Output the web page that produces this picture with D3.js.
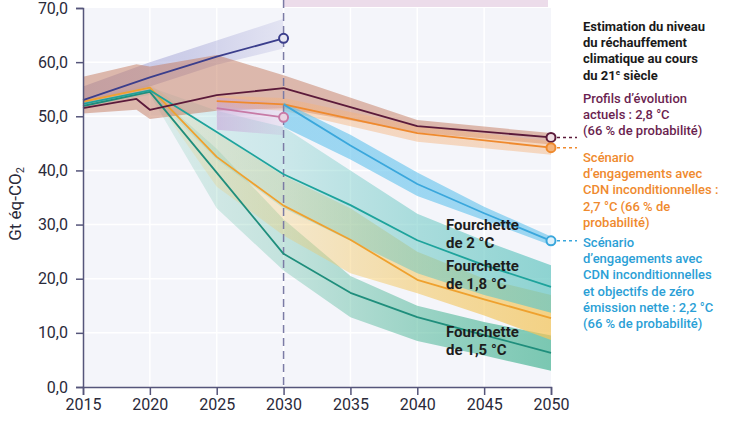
<!DOCTYPE html>
<html>
<head>
<meta charset="utf-8">
<script src="https://cdn.jsdelivr.net/npm/d3@7"></script>
<style>
  body { margin: 0; background: #fff; font-family: Roboto, "Noto Sans", sans-serif; }
</style>
</head>
<body>
<script>
// Size of the picture and the plot area
var width = 730;
var height = 423;
var margin = {top: 8, right: 179, bottom: 36, left: 83};

// ---- data ----
var xTicks = [2015, 2020, 2025, 2030, 2035, 2040, 2045, 2050];
var yTicks = [0, 10, 20, 30, 40, 50, 60, 70];

// historical / 2030 trajectory (navy)
var histYears  = [2015, 2020, 2025, 2030];
var histValues = [53.0, 57.2, 61.0, 64.4];
var histLow    = [52.5, 55.5, 59.5, 62.5];
var histHigh   = [55.5, 60.0, 64.0, 68.0];

// current policies (maroon)
var policyYears  = [2015, 2019, 2020, 2025, 2030, 2040, 2050];
var policyValues = [51.5, 53.2, 51.2, 53.9, 55.2, 48.2, 46.1];
var policyLow    = [50.5, 51.2, 49.5, 51.0, 51.5, 47.0, 44.8];
var policyHigh   = [57.3, 59.6, 59.2, 61.3, 57.6, 49.3, 46.9];

// unconditional NDC (orange)
var ndcYears  = [2025, 2030, 2040, 2050];
var ndcValues = [52.8, 52.2, 46.9, 44.2];
var ndcLow    = [51.8, 51.0, 45.3, 42.9];
var ndcHigh   = [53.8, 53.4, 48.2, 45.4];

// conditional NDC to 2030 (pink)
var condYears  = [2025, 2030];
var condValues = [51.5, 49.8];
var condLow    = [47.5, 46.5];
var condHigh   = [53.5, 52.5];

// NDC + net zero (blue)
var netZeroYears  = [2030, 2035, 2040, 2045, 2050];
var netZeroValues = [52.2, 44.6, 37.5, 32.1, 27.0];
var netZeroLow    = [48.0, 42.0, 35.3, 30.8, 26.2];
var netZeroHigh   = [52.6, 46.6, 39.6, 33.3, 27.8];

// pathways
var pathYears = [2015, 2020, 2025, 2030, 2035, 2040, 2045, 2050];
var p20Values = [52.3, 54.8, 47.1, 39.3, 33.6, 27.1, 22.5, 18.5];
var p20Low    = [52.0, 54.3, 42.0, 33.0, 27.0, 21.0, 17.0, 13.7];
var p20High   = [52.6, 55.4, 51.0, 48.0, 40.0, 32.0, 27.0, 22.5];
var p18Values = [52.7, 55.3, 42.5, 33.5, 27.2, 19.8, 16.2, 12.7];
var p18Low    = [52.4, 54.6, 37.0, 28.0, 21.0, 17.3, 13.2, 8.7];
var p18High   = [53.0, 55.9, 47.0, 39.0, 33.0, 25.0, 20.0, 17.0];
var p15Values = [51.9, 54.5, 39.6, 24.6, 17.4, 12.9, 9.6, 6.3];
var p15Low    = [51.5, 54.0, 33.0, 21.5, 12.9, 8.5, 5.8, 3.0];
var p15High   = [52.3, 55.0, 44.0, 31.0, 20.5, 15.0, 12.0, 9.5];

var titleLines   = ["Estimation du niveau", "du réchauffement", "climatique au cours", "du 21|e| siècle"];
var policyLines  = ["Profils d’évolution", "actuels : 2,8 °C", "(66 % de probabilité)"];
var ndcLines     = ["Scénario", "d’engagements avec", "CDN inconditionnelles :", "2,7 °C (66 % de", "probabilité)"];
var netZeroLines = ["Scénario", "d’engagements avec", "CDN inconditionnelles", "et objectifs de zéro", "émission nette : 2,2 °C", "(66 % de probabilité)"];
var rangeLabels  = [["Fourchette", "de 2 °C"], ["Fourchette", "de 1,8 °C"], ["Fourchette", "de 1,5 °C"]];

// ---- scales ----
var x = d3.scaleLinear().domain([2015, 2050]).range([margin.left, width - margin.right]);
var y = d3.scaleLinear().domain([0, 70]).range([height - margin.bottom, margin.top]);

var svg = d3.select("body")
  .append("svg")
  .attr("width", width)
  .attr("height", height);

var defs = svg.append("defs");

function rows(years, v, lo, hi) {
  return years.map((yr, i) => ({year: yr, v: v[i], lo: lo[i], hi: hi[i]}));
}

// horizontal fade for a band: stops = [[year, opacity], ...]
function fade(id, color, stops) {
  var g = defs.append("linearGradient")
    .attr("id", id)
    .attr("gradientUnits", "userSpaceOnUse")
    .attr("x1", x(2015)).attr("x2", x(2050))
    .attr("y1", 0).attr("y2", 0);
  stops.forEach(s => {
    g.append("stop")
      .attr("offset", (s[0] - 2015) / 35)
      .attr("stop-color", color)
      .attr("stop-opacity", s[1]);
  });
  return "url(#" + id + ")";
}

// faint strip above the plot
svg.append("rect")
  .attr("x", x(2030)).attr("y", 0)
  .attr("width", x(2050) - x(2030) - 3).attr("height", y(70) - 1)
  .attr("fill", "#ecdcea");

// plot background
svg.append("rect")
  .attr("x", x(2015)).attr("y", y(70))
  .attr("width", x(2050) - x(2015)).attr("height", y(0) - y(70))
  .attr("fill", "#f4f5fa");

// white grid
svg.append("g").selectAll("line")
  .data(yTicks.slice(1, -1))
  .join("line")
    .attr("x1", x(2015)).attr("x2", x(2050))
    .attr("y1", d => y(d)).attr("y2", d => y(d))
    .attr("stroke", "#fff").attr("stroke-width", 1.5);
svg.append("g").selectAll("line")
  .data(xTicks.slice(1, -1))
  .join("line")
    .attr("x1", d => x(d)).attr("x2", d => x(d))
    .attr("y1", y(70)).attr("y2", y(0))
    .attr("stroke", "#fff").attr("stroke-width", 1.5);

var area = d3.area().x(d => x(d.year)).y0(d => y(d.lo)).y1(d => y(d.hi));
var line = d3.line().x(d => x(d.year)).y(d => y(d.v));

var pathFade = [[2015, 0.15], [2020, 0.15], [2030, 0.3], [2040, 0.55], [2050, 0.75]];

var series = [
  {data: rows(pathYears, p15Values, p15Low, p15High), line: "#1f8e7c",
   fill: fade("g15", "#52b89a", pathFade)},
  {data: rows(pathYears, p18Values, p18Low, p18High), line: "#efa12e",
   fill: fade("g18", "#f3c65e", pathFade)},
  {data: rows(pathYears, p20Values, p20Low, p20High), line: "#1ea39c",
   fill: fade("g20", "#6cc8c4", pathFade)},
  {data: rows(histYears, histValues, histLow, histHigh), line: "#3b3e8c",
   fill: fade("gh", "#9e9fd4", [[2015, 0.55], [2023, 0.45], [2030, 0.2]])},
  {data: rows(policyYears, policyValues, policyLow, policyHigh), line: "#5b1a3a",
   fill: fade("gp", "#c47a5e", [[2015, 0.5], [2050, 0.5]])},
  {data: rows(ndcYears, ndcValues, ndcLow, ndcHigh), line: "#ef8a2e",
   fill: fade("gn", "#f5b27a", [[2025, 0.45], [2050, 0.45]])},
  {data: rows(condYears, condValues, condLow, condHigh), line: "#c77aa6",
   fill: fade("gc", "#c7a6d8", [[2025, 0.6], [2030, 0.2]])},
  {data: rows(netZeroYears, netZeroValues, netZeroLow, netZeroHigh), line: "#3aa7dc",
   fill: fade("gz", "#62c2ec", [[2030, 0.6], [2050, 0.6]])}
];

svg.append("g").selectAll("path")
  .data(series)
  .join("path")
    .attr("d", d => area(d.data))
    .attr("fill", d => d.fill);

// dashed 2030 marker
svg.append("line")
  .attr("x1", x(2030)).attr("x2", x(2030))
  .attr("y1", 0).attr("y2", y(0))
  .attr("stroke", "#7b7ba5").attr("stroke-width", 1.5)
  .attr("stroke-dasharray", "8,5");

svg.append("g").selectAll("path")
  .data(series)
  .join("path")
    .attr("d", d => line(d.data))
    .attr("fill", "none")
    .attr("stroke", d => d.line)
    .attr("stroke-width", 1.8)
    .attr("stroke-linejoin", "round");

// end markers + dashed leaders to the legend
var ends = [
  {s: series[3], fill: "#e6e6f2", leader: false},
  {s: series[6], fill: "#ead3e2", leader: false},
  {s: series[4], fill: "#eedde2", leader: true},
  {s: series[5], fill: "#f5b47a", leader: true},
  {s: series[7], fill: "#dff1fa", leader: true}
];
ends.forEach(e => {
  var last = e.s.data[e.s.data.length - 1];
  if (e.leader) {
    svg.append("line")
      .attr("x1", x(last.year) + 6).attr("x2", x(last.year) + 26)
      .attr("y1", y(last.v)).attr("y2", y(last.v))
      .attr("stroke", e.s.line).attr("stroke-width", 1.5)
      .attr("stroke-dasharray", "3,3");
  }
  svg.append("circle")
    .attr("cx", x(last.year)).attr("cy", y(last.v)).attr("r", 4.5)
    .attr("fill", e.fill).attr("stroke", e.s.line).attr("stroke-width", 2);
});

// axes
var axisColor = "#55557a";
var yAxis = svg.append("g")
  .attr("transform", "translate(" + x(2015) + ",0)")
  .call(d3.axisLeft(y).tickValues(yTicks).tickSize(7).tickPadding(8)
    .tickFormat(d => d3.format(".1f")(d).replace(".", ",")));
var xAxis = svg.append("g")
  .attr("transform", "translate(0," + y(0) + ")")
  .call(d3.axisBottom(x).tickValues(xTicks).tickSize(8).tickPadding(4).tickFormat(d3.format("d")));

[yAxis, xAxis].forEach(a => {
  a.select(".domain").attr("stroke", axisColor).attr("stroke-width", 1.5);
  a.selectAll(".tick line").attr("stroke", axisColor).attr("stroke-width", 1.5);
  a.selectAll(".tick text")
    .attr("fill", "#2a2a3a")
    .style("font-family", "Roboto, sans-serif")
    .style("font-size", "16px");
});

// y title
var yt = svg.append("text")
  .attr("transform", "translate(21,204) rotate(-90)")
  .attr("text-anchor", "middle")
  .attr("fill", "#2a2a3a")
  .style("font-size", "17px");
yt.append("tspan").text("Gt éq-CO");
yt.append("tspan").attr("dy", 3).style("font-size", "11px").text("2");

// legend text blocks
function block(lines, x0, y0, color, weight) {
  var t = svg.append("text")
    .attr("fill", color)
    .style("font-size", "13px")
    .style("font-weight", weight);
  lines.forEach((l, i) => {
    var parts = l.split("|");
    t.append("tspan").attr("x", x0).attr("y", y0 + i * 16.2).text(parts[0]);
    if (parts.length > 1) {
      t.append("tspan").attr("dy", -5).style("font-size", "8px").text(parts[1]);
      t.append("tspan").attr("dy", 5).text(parts[2]);
    }
  });
}
block(titleLines, 583, 31, "#1a1a1a", 700);
block(policyLines, 583, 103, "#6b1f50", 500);
block(ndcLines, 583, 162, "#ef8a2e", 500);
block(netZeroLines, 583, 247, "#2b9fd6", 500);

// range labels inside the plot
var labelTops = [230, 271, 337];
rangeLabels.forEach((lines, i) => {
  var t = svg.append("text")
    .attr("fill", "#1d1d1d")
    .style("font-size", "15px")
    .style("font-weight", 700);
  lines.forEach((l, j) => {
    t.append("tspan").attr("x", 446).attr("y", labelTops[i] + j * 17.5).text(l);
  });
});
</script>
</body>
</html>
